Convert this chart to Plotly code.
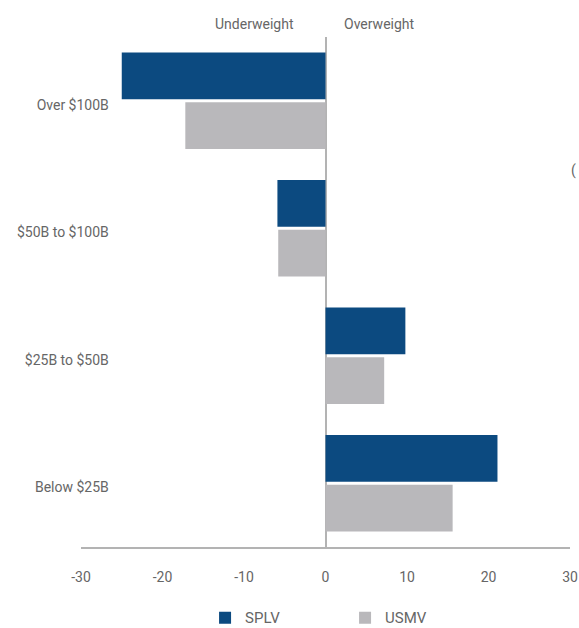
import plotly.graph_objects as go

categories = ["Over $100B", "$50B to $100B", "$25B to $50B", "Below $25B"]
splv = [-25.0, -5.9, 9.8, 21.1]
usmv = [-17.2, -5.8, 7.2, 15.6]
x_ticks = [-30, -20, -10, 0, 10, 20, 30]

BLUE = "#0c4a80"
GREY = "#b9b8bb"
TEXT = "#666666"
LINE = "#b3b3b3"
FONT = "Roboto"

fig = go.Figure()
fig.add_trace(go.Bar(y=categories, x=splv, orientation="h", name="SPLV",
                     marker=dict(color=BLUE, line=dict(width=0))))
fig.add_trace(go.Bar(y=categories, x=usmv, orientation="h", name="USMV",
                     marker=dict(color=GREY, line=dict(width=0))))

fig.update_layout(
    width=579, height=628,
    margin=dict(l=81, r=9, t=37, b=81, autoexpand=False),
    paper_bgcolor="white", plot_bgcolor="white",
    barmode="group", bargap=0.22, bargroupgap=0.06,
    font=dict(family=FONT, size=14, color=TEXT),
    showlegend=True,
    legend=dict(orientation="h", x=0.54, xanchor="center", y=-0.139, yanchor="middle",
                font=dict(size=15, color=TEXT), entrywidth=95, traceorder="normal"),
    xaxis=dict(range=[-30, 30], tickvals=x_ticks, ticktext=[str(v) for v in x_ticks],
               showgrid=False, zeroline=True, zerolinecolor=LINE, zerolinewidth=1.5,
               showline=True, linecolor=LINE, linewidth=1.5, ticks="",
               ticklabelstandoff=16, automargin=False, fixedrange=True),
    yaxis=dict(categoryorder="array", categoryarray=categories, autorange="reversed",
               anchor="free", position=0.061, showline=False, showgrid=False,
               zeroline=False, ticks="", ticklabelstandoff=2, ticklabelshift=-4,
               automargin=False),
)

fig.add_annotation(text="Underweight", xref="x", yref="paper", x=-8.7, y=1.025,
                   showarrow=False, xanchor="center", yanchor="middle",
                   font=dict(size=14, color=TEXT))
fig.add_annotation(text="Overweight", xref="x", yref="paper", x=6.6, y=1.025,
                   showarrow=False, xanchor="center", yanchor="middle",
                   font=dict(size=14, color=TEXT))
fig.add_annotation(text="(", xref="paper", yref="paper", x=1.0164, y=0.739,
                   showarrow=False, xanchor="right", yanchor="middle",
                   font=dict(size=14, color=TEXT))

fig.write_html("out.html")
